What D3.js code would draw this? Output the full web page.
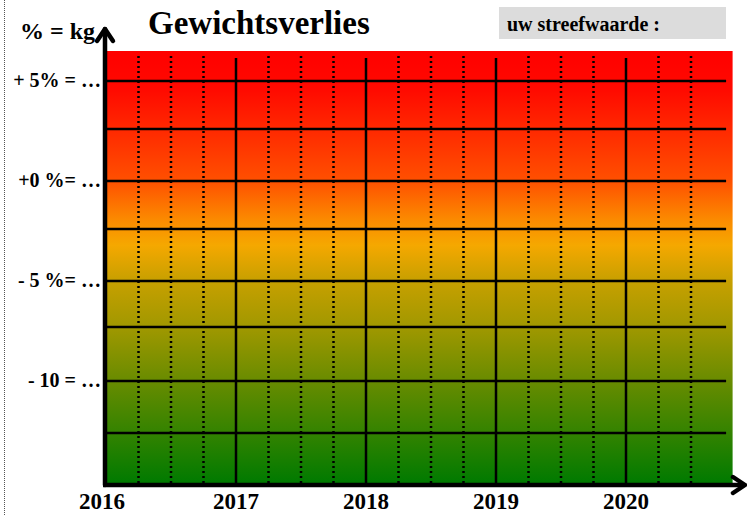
<!DOCTYPE html>
<html>
<head>
<meta charset="utf-8">
<script src="https://cdn.jsdelivr.net/npm/d3@7"></script>
<style>
  html, body { margin: 0; padding: 0; background: #fff; }
  svg { display: block; font-family: "Liberation Serif", "Times New Roman", serif; font-weight: bold; }
</style>
</head>
<body>
<div id="chart"></div>
<script>
// chart data
const title = "Gewichtsverlies";
const yAxisTitle = "% = kg";
const targetLabel = "uw streefwaarde :";
const years = [2016, 2017, 2018, 2019, 2020];
const yearLabels = ["2016", "2017", "2018", "2019", "2020"];
const quarterLines = [2016.25, 2016.5, 2016.75, 2017.25, 2017.5, 2017.75,
  2018.25, 2018.5, 2018.75, 2019.25, 2019.5, 2019.75, 2020.25, 2020.5];
const levelValues = [5, 0, -5, -10];
const levelLabels = ["+ 5% = …", "+0 %= …", "- 5 %= …", "- 10 = …"];
const gridValues = [5, 2.6, 0, -2.4, -5, -7.3, -10, -12.6];

const W = 747, H = 515;

const svg = d3.select("#chart")
  .append("svg")
  .attr("width", W)
  .attr("height", H);

const x = d3.scaleLinear().domain([2016, 2021]).range([106, 756]);
const y = d3.scaleLinear().domain([6.5, -15.1]).range([51, 483]);

// background gradient, red at the top to green at the bottom
const grad = svg.append("defs").append("linearGradient")
  .attr("id", "bg")
  .attr("x1", 0).attr("y1", 0).attr("x2", 0).attr("y2", 1);

[
  [0, "#ff0000"], [0.09, "#ff0a00"], [0.30, "#ff5000"], [0.39, "#fb8a00"],
  [0.45, "#f5a800"], [0.53, "#c8a000"], [0.64, "#a09800"], [0.76, "#6a8c00"],
  [1, "#007a00"]
].forEach(([o, c]) => grad.append("stop").attr("offset", o).attr("stop-color", c));

svg.append("rect")
  .attr("x", x(2016))
  .attr("y", y(6.5))
  .attr("width", x(2020.82) - x(2016))
  .attr("height", y(-15.1) - y(6.5))
  .attr("fill", "url(#bg)");

// left dotted page border
svg.append("line")
  .attr("x1", 4.5).attr("x2", 4.5)
  .attr("y1", 0).attr("y2", H)
  .attr("stroke", "#555")
  .attr("stroke-width", 1)
  .attr("stroke-dasharray", "1,1");

// dotted quarter lines
svg.append("g")
  .selectAll("line")
  .data(quarterLines)
  .join("line")
  .attr("x1", d => x(d)).attr("x2", d => x(d))
  .attr("y1", y(6.25)).attr("y2", y(-15.1))
  .attr("stroke", "#000")
  .attr("stroke-width", 2.5)
  .attr("stroke-dasharray", "2,3");

// solid year lines
svg.append("g")
  .selectAll("line")
  .data(years.slice(1))
  .join("line")
  .attr("x1", d => x(d)).attr("x2", d => x(d))
  .attr("y1", y(6.15)).attr("y2", y(-15.1))
  .attr("stroke", "#000")
  .attr("stroke-width", 2.5);

// horizontal grid lines
svg.append("g")
  .selectAll("line")
  .data(gridValues)
  .join("line")
  .attr("x1", x(2016)).attr("x2", x(2020.77))
  .attr("y1", d => y(d)).attr("y2", d => y(d))
  .attr("stroke", "#000")
  .attr("stroke-width", 2.5);

// axes with arrow heads
const axisG = svg.append("g")
  .attr("stroke", "#000")
  .attr("fill", "none")
  .attr("stroke-width", 4.5)
  .attr("stroke-linecap", "round")
  .attr("stroke-linejoin", "round");

axisG.append("line")
  .attr("x1", 105).attr("x2", 105)
  .attr("y1", 29).attr("y2", 485);
axisG.append("path")
  .attr("d", "M97,41 L105,29 L113,41");

axisG.append("line")
  .attr("x1", 103).attr("x2", 744)
  .attr("y1", 485).attr("y2", 485)
  .attr("stroke-linecap", "butt");
axisG.append("path")
  .attr("d", "M733,477 L745,485 L733,493");

// y level labels
svg.append("g")
  .selectAll("text")
  .data(levelValues)
  .join("text")
  .attr("x", 101)
  .attr("y", d => y(d) + 6)
  .attr("text-anchor", "end")
  .style("font-size", "20px")
  .text((d, i) => levelLabels[i]);

// year labels
svg.append("g")
  .selectAll("text")
  .data(years)
  .join("text")
  .attr("x", (d, i) => x(d) + (i === 0 ? -4 : 0))
  .attr("y", 509)
  .attr("text-anchor", "middle")
  .style("font-size", "23px")
  .text((d, i) => yearLabels[i]);

// titles
svg.append("text")
  .attr("x", 20).attr("y", 39)
  .style("font-size", "24px")
  .text(yAxisTitle);

svg.append("text")
  .attr("x", 148).attr("y", 34)
  .style("font-size", "33px")
  .text(title);

svg.append("rect")
  .attr("x", 499).attr("y", 7)
  .attr("width", 227).attr("height", 32)
  .attr("fill", "#dcdcdc");

svg.append("text")
  .attr("x", 507).attr("y", 31)
  .style("font-size", "20px")
  .text(targetLabel);
</script>
</body>
</html>
